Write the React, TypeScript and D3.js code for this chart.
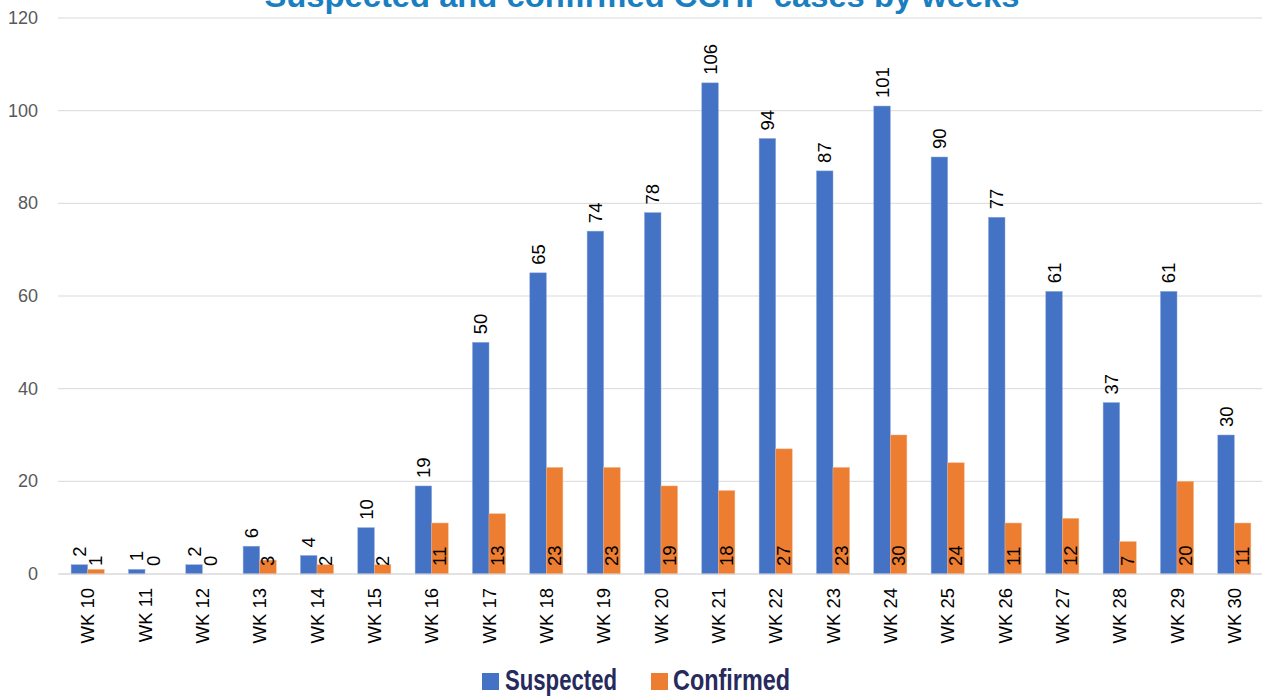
import React from "react";
import * as d3 from "d3";

const weeks = ["WK 10","WK 11","WK 12","WK 13","WK 14","WK 15","WK 16","WK 17","WK 18","WK 19","WK 20","WK 21","WK 22","WK 23","WK 24","WK 25","WK 26","WK 27","WK 28","WK 29","WK 30"];
const suspected = [2,1,2,6,4,10,19,50,65,74,78,106,94,87,101,90,77,61,37,61,30];
const confirmed = [1,0,0,3,2,2,11,13,23,23,19,18,27,23,30,24,11,12,7,20,11];
const yTicks = [0,20,40,60,80,100,120];
const seriesNames = ["Suspected","Confirmed"];
const colors = ["#4472C4","#ED7D31"];

const W = 1262, H = 700;
const left = 59, right = 1263, top = 18, bottom = 574;

export default function App() {
  const x = d3.scaleBand<string>().domain(weeks).range([left, right]).paddingInner(0).paddingOuter(0);
  const step = x.step();
  const groupW = step * 0.577;
  const barW = groupW / 2;
  const y = d3.scaleLinear().domain([0, 120]).range([bottom, top]);
  const font = "'Liberation Sans', Arial, sans-serif";

  return (
    <svg width={W} height={H} style={{ position: "absolute", left: 0, top: 0, background: "#fff" }}>
      <text x={642} y={7} textAnchor="middle" fontFamily={font} fontWeight="bold" fontSize={32} fill="#1a7fc1" textLength={755} lengthAdjust="spacingAndGlyphs">
        Suspected and confirmed CCHF cases by weeks
      </text>
      {yTicks.map(t => (
        <g key={t}>
          <line x1={left - 1} x2={W} y1={y(t)} y2={y(t)} stroke="#d9d9d9" strokeWidth={1} />
          <text x={38} y={y(t)} textAnchor="end" dominantBaseline="central" fontFamily={font} fontSize={18} fill="#595959">{t}</text>
        </g>
      ))}
      {weeks.map((w, i) => {
        const cx = (x(w) as number) + step / 2;
        const bx0 = cx - barW;
        const bx1 = cx;
        const ys = y(suspected[i]);
        const yc = y(confirmed[i]);
        return (
          <g key={w}>
            <rect x={bx0} y={ys} width={barW} height={bottom - ys} fill={colors[0]} stroke="#8faadc" strokeWidth={0.5} />
            <rect x={bx1} y={yc} width={barW} height={bottom - yc} fill={colors[1]} stroke="#f4b183" strokeWidth={0.5} />
            <text transform={`translate(${bx0 + barW / 2},${ys - 8}) rotate(-90)`} dominantBaseline="central" textAnchor="start" fontFamily={font} fontSize={18.5} fill="#000">{suspected[i]}</text>
            <text transform={`translate(${bx1 + barW / 2},${bottom - 8}) rotate(-90)`} dominantBaseline="central" textAnchor="start" fontFamily={font} fontSize={18.5} fill="#000">{confirmed[i]}</text>
            <text transform={`translate(${cx},588) rotate(-90)`} dominantBaseline="central" textAnchor="end" fontFamily={font} fontSize={18.5} fill="#000">{w}</text>
          </g>
        );
      })}
      <line x1={left} x2={W} y1={bottom} y2={bottom} stroke="#d9d9d9" strokeWidth={1} />
      <g>
        <rect x={482} y={673} width={17} height={17} fill={colors[0]} />
        <text x={505} y={690} fontFamily={font} fontWeight="bold" fontSize={29} fill="#262a5c" textLength={112} lengthAdjust="spacingAndGlyphs">{seriesNames[0]}</text>
        <rect x={651} y={673} width={17} height={17} fill={colors[1]} />
        <text x={673} y={690} fontFamily={font} fontWeight="bold" fontSize={29} fill="#262a5c" textLength={117} lengthAdjust="spacingAndGlyphs">{seriesNames[1]}</text>
      </g>
    </svg>
  );
}
